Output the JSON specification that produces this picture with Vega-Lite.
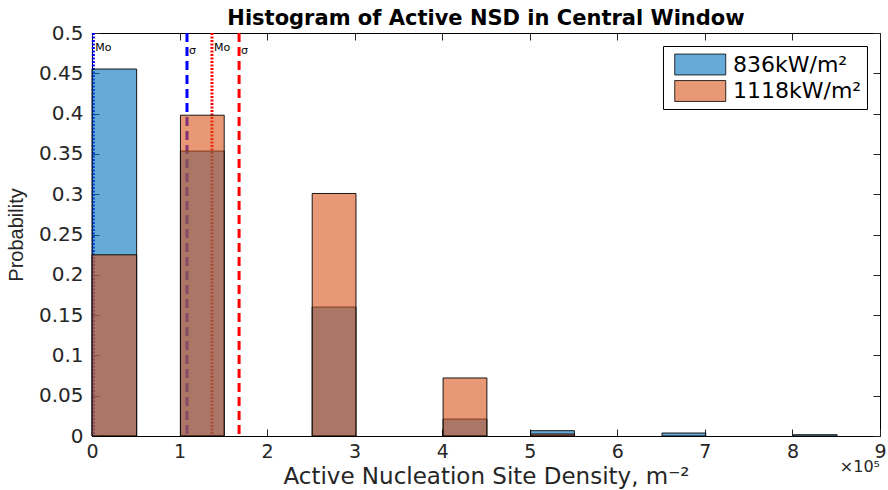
{
  "$schema": "https://vega.github.io/schema/vega-lite/v6.json",
  "width": 788,
  "height": 403,
  "autosize": "none",
  "padding": {"left": 92, "top": 33, "right": 8, "bottom": 54},
  "background": "white",
  "config": {
    "view": {"stroke": "black", "strokeWidth": 1},
    "font": "DejaVu Sans",
    "axis": {"grid": false, "domain": false, "tickColor": "#262626", "tickWidth": 1, "labelColor": "#262626", "titleColor": "#262626", "labelFlush": false}
  },
  "title": {
    "text": "Histogram of Active NSD in Central Window",
    "font": "DejaVu Sans",
    "fontSize": 21,
    "fontWeight": "bold",
    "color": "black",
    "offset": -6
  },
  "datasets": {
    "bins": [
      {"series": "836kW/m²", "x0": 0, "x1": 0.51, "p": 0.4553},
      {"series": "836kW/m²", "x0": 1.01, "x1": 1.51, "p": 0.3535},
      {"series": "836kW/m²", "x0": 2.515, "x1": 3.015, "p": 0.160},
      {"series": "836kW/m²", "x0": 4.01, "x1": 4.51, "p": 0.021},
      {"series": "836kW/m²", "x0": 5.01, "x1": 5.51, "p": 0.0066},
      {"series": "836kW/m²", "x0": 6.51, "x1": 7.01, "p": 0.0037},
      {"series": "836kW/m²", "x0": 8.01, "x1": 8.51, "p": 0.0016},
      {"series": "1118kW/m²", "x0": 0, "x1": 0.51, "p": 0.2248},
      {"series": "1118kW/m²", "x0": 1.01, "x1": 1.51, "p": 0.398},
      {"series": "1118kW/m²", "x0": 2.515, "x1": 3.015, "p": 0.3009},
      {"series": "1118kW/m²", "x0": 4.01, "x1": 4.51, "p": 0.072},
      {"series": "1118kW/m²", "x0": 5.01, "x1": 5.51, "p": 0.0025}
    ],
    "stats": [
      {"run": "836", "stat": "Mo", "value": 0.015, "labelY": 0.482},
      {"run": "836", "stat": "σ", "value": 1.085, "labelY": 0.478},
      {"run": "1118", "stat": "Mo", "value": 1.37, "labelY": 0.482},
      {"run": "1118", "stat": "σ", "value": 1.68, "labelY": 0.478}
    ],
    "exponent": [
      {"text": "×10⁵", "x": 9, "y": 0}
    ]
  },
  "layer": [
    {
      "data": {"name": "stats"},
      "mark": {"type": "rule", "strokeWidth": 3},
      "encoding": {
        "x": {"field": "value", "type": "quantitative", "scale": {"domain": [0, 9], "nice": false, "zero": false}, "axis": null},
        "stroke": {"field": "run", "type": "nominal", "scale": {"domain": ["836", "1118"], "range": ["#0000FF", "#FF0000"]}, "legend": null},
        "strokeDash": {"field": "stat", "type": "nominal", "scale": {"domain": ["Mo", "σ"], "range": [[2, 1.5], [9, 5]]}, "legend": null}
      }
    },
    {
      "data": {"name": "stats"},
      "mark": {"type": "text", "align": "left", "baseline": "middle", "dx": 2, "fontSize": 11, "color": "black", "font": "DejaVu Sans"},
      "encoding": {
        "x": {"field": "value", "type": "quantitative", "scale": {"domain": [0, 9], "nice": false, "zero": false}, "axis": null},
        "y": {"field": "labelY", "type": "quantitative", "scale": {"domain": [0, 0.5], "nice": false}, "axis": null},
        "text": {"field": "stat", "type": "nominal"}
      }
    },
    {
      "data": {"name": "bins"},
      "mark": {"type": "bar", "fillOpacity": 0.6, "stroke": "black", "strokeWidth": 0.9},
      "encoding": {
        "x": {
          "field": "x0", "type": "quantitative",
          "scale": {"domain": [0, 9], "nice": false, "zero": false},
          "axis": {
            "orient": "bottom", "values": [0, 1, 2, 3, 4, 5, 6, 7, 8, 9], "format": "d",
            "tickSize": -7, "labelPadding": 13, "labelFontSize": 19, "labelFont": "DejaVu Sans",
            "title": "Active Nucleation Site Density, m⁻²", "titleFontSize": 23, "titleFont": "DejaVu Sans",
            "titleFontWeight": "normal", "titlePadding": 4
          }
        },
        "x2": {"field": "x1"},
        "y": {
          "field": "p", "type": "quantitative",
          "scale": {"domain": [0, 0.5], "nice": false},
          "axis": {
            "orient": "left", "values": [0, 0.05, 0.1, 0.15, 0.2, 0.25, 0.3, 0.35, 0.4, 0.45, 0.5], "format": "~g",
            "tickSize": -7, "labelPadding": 16, "labelFontSize": 20, "labelFont": "DejaVu Sans",
            "title": "Probability", "titleFont": "Liberation Sans", "titleFontSize": 20, "titleFontWeight": "normal", "titlePadding": 12
          }
        },
        "y2": {"datum": 0},
        "fill": {
          "field": "series", "type": "nominal",
          "scale": {"domain": ["836kW/m²", "1118kW/m²"], "range": ["#0072BD", "#D95319"]},
          "legend": {
            "title": null,
            "orient": "top-right",
            "offset": 13,
            "padding": 5,
            "strokeColor": "black",
            "fillColor": "white",
            "cornerRadius": 0,
            "symbolType": "M-0.53,-0.82H3.47V0.82H-0.53Z",
            "symbolSize": 650,
            "symbolStrokeColor": "black",
            "symbolStrokeWidth": 0.8,
            "labelFontSize": 22,
            "labelFont": "DejaVu Sans",
            "labelColor": "black",
            "labelOffset": 38,
            "rowPadding": 0.5,
            "encode": {"symbols": {"update": {"fillOpacity": {"value": 0.6}}}}
          }
        }
      }
    },
    {
      "data": {"name": "bins"},
      "mark": {"type": "point", "opacity": 0},
      "encoding": {
        "x": {
          "field": "x0", "type": "quantitative",
          "scale": {"domain": [0, 9], "nice": false, "zero": false},
          "axis": {"orient": "top", "values": [0, 1, 2, 3, 4, 5, 6, 7, 8, 9], "labels": false, "tickSize": -7, "title": null}
        },
        "y": {
          "field": "p", "type": "quantitative",
          "scale": {"domain": [0, 0.5], "nice": false},
          "axis": {"orient": "right", "values": [0, 0.05, 0.1, 0.15, 0.2, 0.25, 0.3, 0.35, 0.4, 0.45, 0.5], "labels": false, "tickSize": -7, "title": null}
        }
      }
    },
    {
      "data": {"name": "exponent"},
      "mark": {"type": "text", "align": "right", "baseline": "middle", "dy": 31, "fontSize": 16, "color": "#262626", "font": "DejaVu Sans"},
      "encoding": {
        "x": {"field": "x", "type": "quantitative", "scale": {"domain": [0, 9], "nice": false, "zero": false}, "axis": null},
        "y": {"field": "y", "type": "quantitative", "scale": {"domain": [0, 0.5], "nice": false}, "axis": null},
        "text": {"field": "text", "type": "nominal"}
      }
    }
  ],
  "resolve": {"axis": {"x": "independent", "y": "independent"}}
}
